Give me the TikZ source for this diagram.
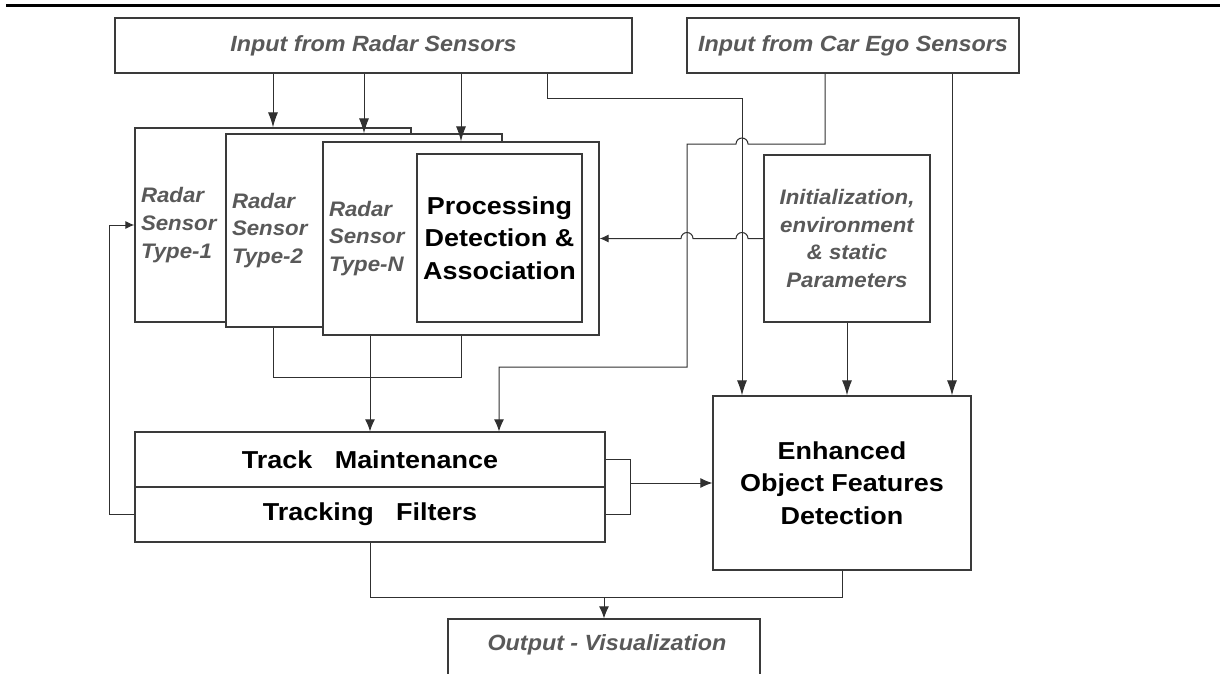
\documentclass[tikz,border=0pt]{standalone}
\usepackage{fontspec}
\setmainfont{Liberation Sans}
\newfontfamily\blackf[FakeStretch=1.10]{Liberation Sans}
\newfontfamily\greyf[FakeStretch=1.06]{Liberation Sans}
\usetikzlibrary{arrows.meta}
\definecolor{txtgrey}{HTML}{595959}
\definecolor{boxgrey}{HTML}{3A3A3A}
\definecolor{conngrey}{HTML}{303030}
\begin{document}
\begin{tikzpicture}[x=1pt,y=-1pt,
  box/.style={draw=boxgrey, line width=1.2pt, fill=white, inner sep=0pt},
  greytxt/.style={font={\greyf\bfseries\itshape\fontsize{22}{28}\selectfont}, text=txtgrey},
  greysmall/.style={font={\greyf\bfseries\itshape\fontsize{21}{27.7}\selectfont}, text=txtgrey},
  blacktxt/.style={font={\blackf\bfseries\fontsize{24.5}{32.5}\selectfont}, text=black},
  conn/.style={draw=conngrey, line width=1pt},
  arrbig/.style={conn, -{Latex[length=15pt,width=10pt]}},
  arr/.style={conn, -{Latex[length=12pt,width=10pt]}},
  arrsmall/.style={conn, -{Latex[length=9pt,width=8pt]}}
]
\useasboundingbox (0,0) rectangle (1220,674);
\clip (0,0) rectangle (1220,674);

% top rule
\draw[line width=2.7pt] (6,5.5) -- (1220,5.5);

% input boxes
\node[box, greytxt, minimum width=517pt, minimum height=55pt] (radar) at (373.5,45.5) {Input from Radar Sensors};
\node[box, greytxt, minimum width=332pt, minimum height=55pt] (ego) at (853,45.5) {Input from Car Ego Sensors};

% sensor stack
\node[box, greysmall, minimum height=194pt, text width=264pt, inner xsep=6pt, align=left] (t1) at (273,225) {Radar\\Sensor\\Type-1};
\node[box, greysmall, minimum height=193pt, text width=264pt, inner xsep=6pt, align=left] (t2) at (364,230.5) {Radar\\Sensor\\Type-2};
\node[box, greysmall, minimum height=193pt, text width=264pt, inner xsep=6pt, align=left] (tN) at (461,238.5) {Radar\\Sensor\\Type-N};
\node[box, blacktxt, minimum width=165pt, minimum height=168pt, align=center] (proc) at (499.5,238) {Processing\\Detection \&\\Association};

% init box
\node[box, greysmall, minimum width=166pt, minimum height=167pt, align=center] (init) at (847,238.5) {Initialization,\\environment\\\& static\\Parameters};

% tracking box
\node[box, minimum width=470pt, minimum height=110pt] (track) at (370,487) {};
\draw[draw=boxgrey, line width=1.2pt] (track.west) -- (track.east);
\node[blacktxt] (tm) at (370,459.5) {Track\ \ \ Maintenance};
\node[blacktxt] (tf) at (370,514.5) {Tracking\ \ \ Filters};

% enhanced features box
\node[box, blacktxt, minimum width=258pt, minimum height=174pt, align=center] (eofd) at (842,483) {Enhanced\\Object Features\\Detection};

% output box (cut by the page edge)
\node[box, minimum width=312pt, minimum height=70pt] (out) at (604,654) {};
\node[greytxt] (outtxt) at (607,645) {Output - Visualization};

% radar input to sensors
\draw[arrbig] (radar.south -| t1.north) -- (t1.north);
\draw[arrbig] (radar.south -| t2.north) -- (t2.north);
\draw[arrbig] (radar.south -| tN.north) -- (tN.north);

% radar input to enhanced features
\draw[arrbig] (radar.south -| 547,0) -- (547,99) -- (742,99) -- (eofd.north -| 742,0);

% ego to tracking (with hop)
\draw[arr] (ego.south -| 825,0) -- (825,144) -- (748,144)
  arc[start angle=0, end angle=180, radius=6pt] -- (687,144) -- (687,367) -- (499,367) -- (track.north -| 499,0);

% ego to enhanced features
\draw[arrbig] (ego.south -| 952,0) -- (eofd.north -| 952,0);

% init to processing (with hops)
\draw[arrsmall] (init.west) -- (748,238.5) arc[start angle=0, end angle=180, radius=6pt]
  -- (693,238.5) arc[start angle=0, end angle=180, radius=6pt] -- (tN.east);

% init to enhanced features
\draw[arrbig] (init.south) -- (eofd.north -| init.south);

% sensor bottoms
\draw[conn] (t1.south |- t2.south) -- (273,377) -- (461,377) -- (tN.south);
\draw[arr] (track.north |- tN.south) -- (track.north);

% feedback loop
\draw[arrsmall] (track.west |- tf) -- (109,514.5) -- (109,225) -- (t1.west);

% tracking to enhanced features
\draw[conn] (track.east |- tm) -- (630,459.5) -- (630,514.5) -- (track.east |- tf);
\draw[arr] (630,483) -- (eofd.west);

% to output
\draw[conn] (track.south) -- (370,597) -- (604,597);
\draw[arr] (eofd.south) -- (842,597) -- (604,597) -- (out.north);
\end{tikzpicture}
\end{document}
